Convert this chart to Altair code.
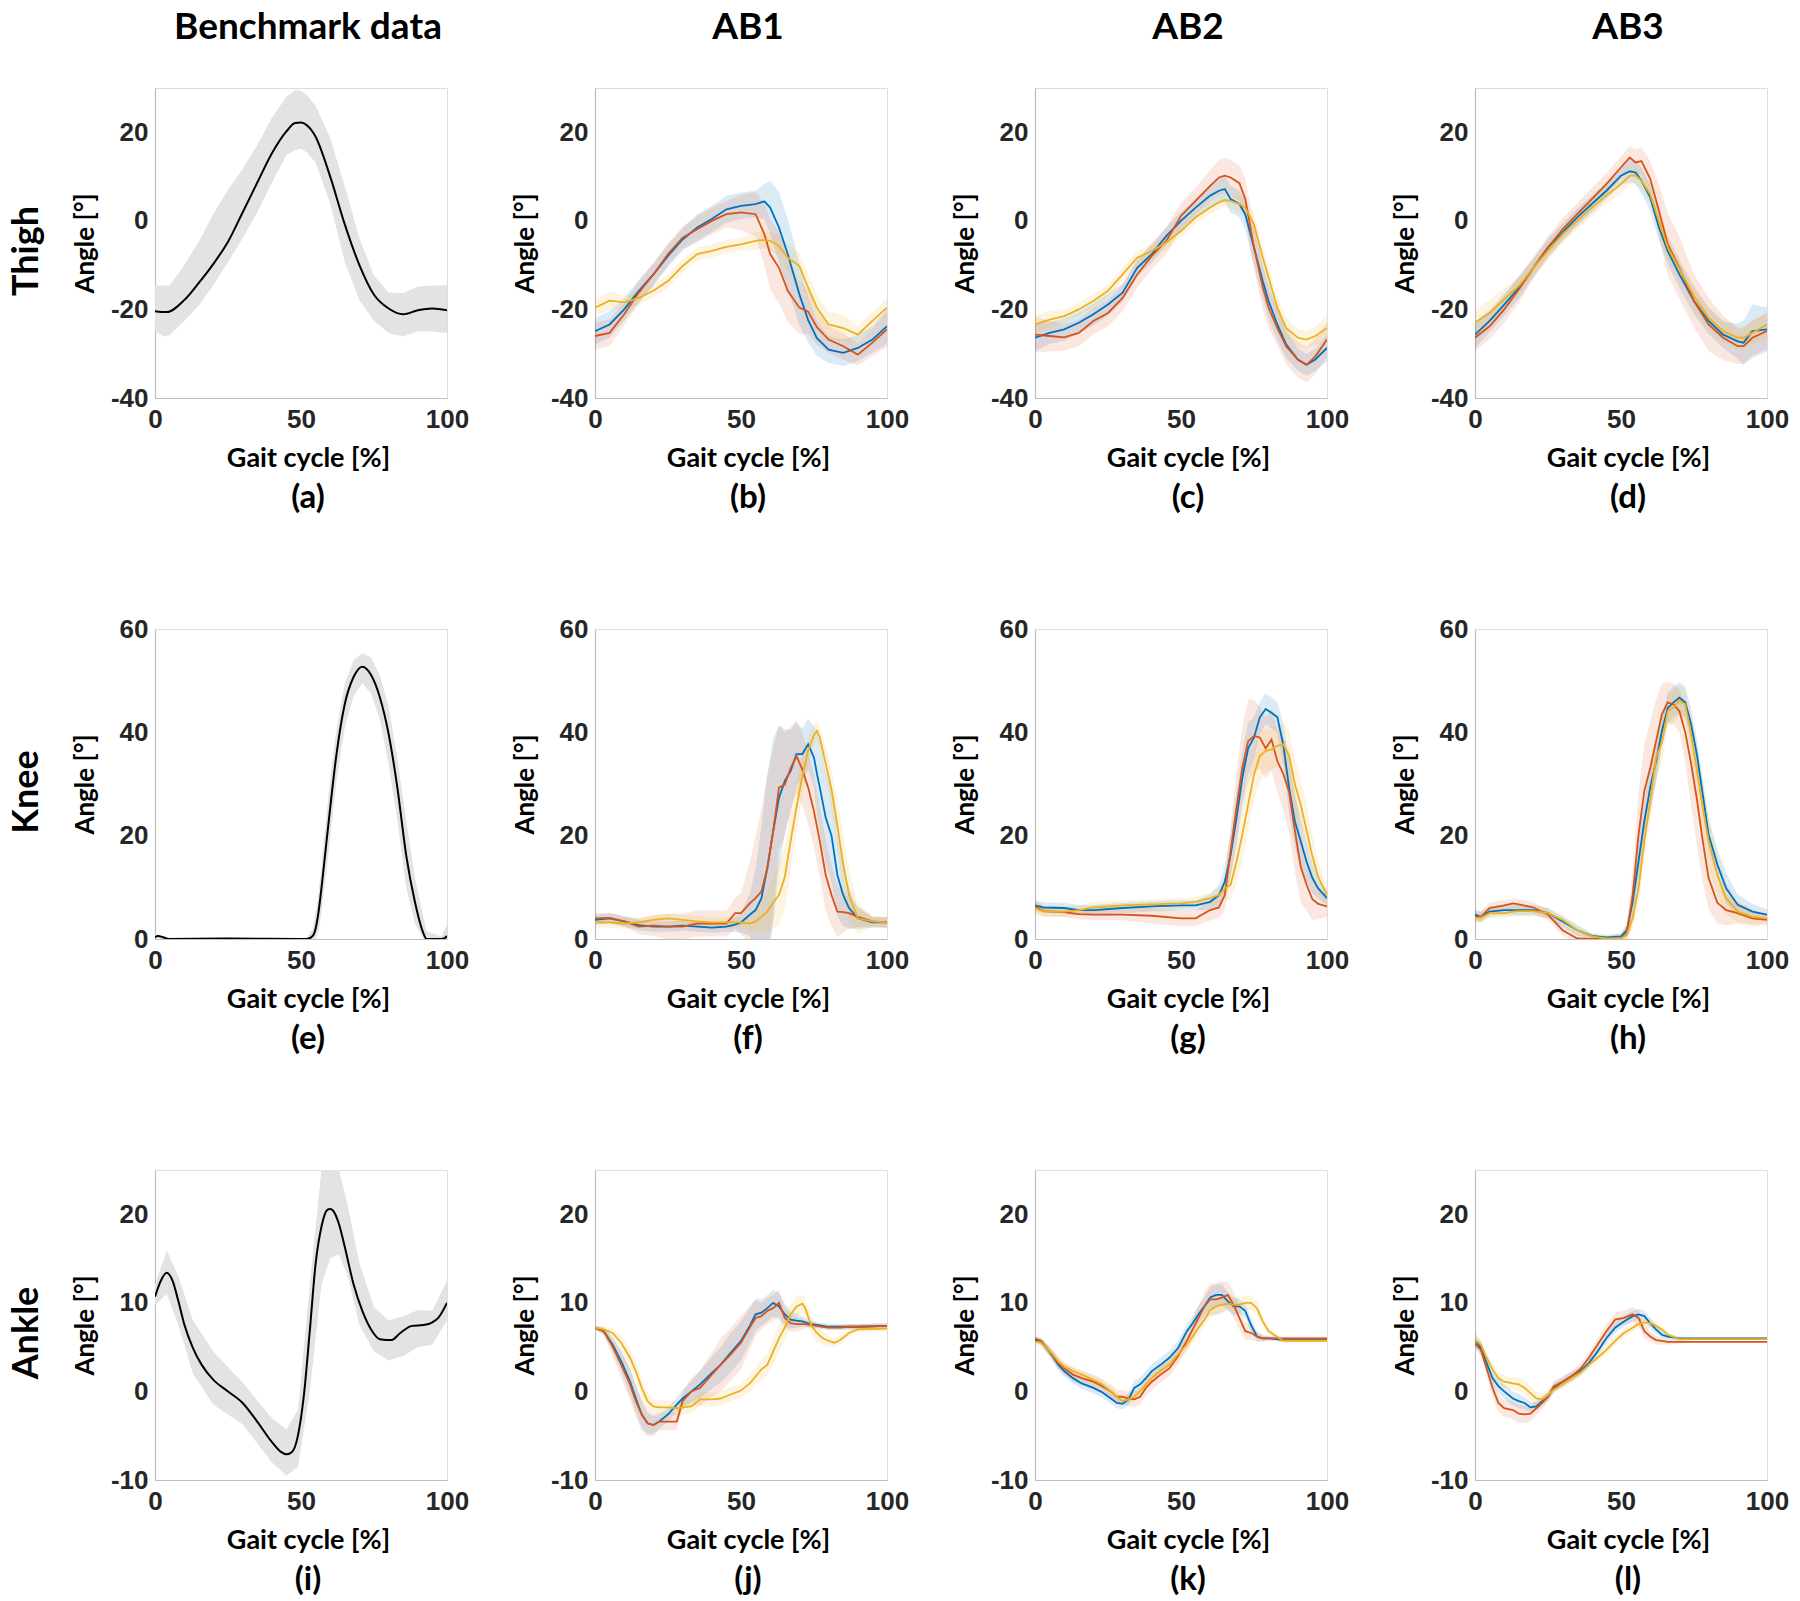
import altair as alt
import pandas as pd

W, H = 292, 310
SERIES = ["blue", "red", "yellow"]
SERIES_COLORS = ["#0072BD", "#D95319", "#EDB120"]
AXIS_COLOR = "#bdbdbd"
TICK_FONT = "Liberation Sans"
TEXT_FONT = "Lato"

COL_TITLES = ["Benchmark data", "AB1", "AB2", "AB3"]
ROW_LABELS = ["Thigh", "Knee", "Ankle"]
LETTERS = ["(a)", "(b)", "(c)", "(d)", "(e)", "(f)", "(g)", "(h)", "(i)", "(j)", "(k)", "(l)"]
X_TICKS = [0, 50, 100]
THIGH_DOMAIN, THIGH_TICKS = [-40, 30], [-40, -20, 0, 20]
KNEE_DOMAIN, KNEE_TICKS = [0, 60], [0, 20, 40, 60]
ANKLE_DOMAIN, ANKLE_TICKS = [-10, 25], [-10, 0, 10, 20]

# ---------------- Benchmark thigh (a)
A_X = [0, 4, 10, 15, 20, 25, 30, 35, 40, 45, 48, 50, 52, 55, 60, 65, 70, 75, 80, 85, 90, 95, 100]
A_MEAN = [-20.4, -20.6, -17.9, -14, -9.7, -4.7, 1.9, 8.6, 15.2, 20.2, 22.1, 22.2, 21.6, 19, 10, -0.8, -10, -16.7, -19.8, -21.1, -20.2, -19.8, -20.2]
A_BX = [0, 3, 5, 10, 15, 20, 25, 30, 35, 40, 45, 48, 50, 52, 55, 60, 65, 70, 75, 80, 85, 90, 95, 100]
A_HI = [-14.6, -14.6, -14.6, -10, -4.7, 1.6, 7, 11.7, 17.1, 23.3, 28, 29.5, 29.4, 28.4, 26, 18.7, 7.8, -3.9, -12.4, -16.2, -16.3, -14.9, -14.6, -14.6]
A_LO = [-24.9, -26.1, -25.8, -22.6, -19.1, -14.5, -9.3, -3.9, 1.9, 8.6, 14.8, 16, 16.3, 15.5, 13.2, 3.9, -9.3, -17.9, -22.6, -25.3, -26.1, -24.9, -25, -25.3]

# ---------------- AB1 thigh (b)
B_X = [0, 5, 10, 15, 20, 25, 30, 35, 40, 45, 50, 55, 58, 60, 63, 66, 70, 73, 76, 80, 85, 90, 95, 100]
B_BLUE = [-24.9, -23.4, -20, -15.8, -12.1, -7.9, -4.2, -1.5, 0.4, 2.6, 3.4, 3.8, 4.4, 3, -1.5, -7.5, -16.6, -22.4, -26.5, -29.1, -29.8, -28.7, -26.8, -23.8]
B_RED = [-26, -25.3, -21.1, -16.2, -12.1, -7.5, -3.8, -1.9, 0, 1.5, 1.9, 1.5, -3, -7.5, -10.6, -15.8, -19.6, -20.5, -24, -26.8, -28.3, -30.2, -27.5, -24.5]
B_YEL = [-19.6, -18, -18.4, -17.4, -15.8, -13.6, -10.2, -7.5, -6.8, -5.9, -5.3, -4.5, -4.3, -4.5, -5.7, -8.3, -10.2, -15.1, -19.6, -23.4, -24.2, -25.7, -22.6, -19.6]
B_BLUE_SD = [3, 3, 2.5, 2.5, 2.5, 2.5, 2.5, 3, 3, 3, 3, 3, 4, 6, 8, 8, 7, 5, 4, 3, 3, 3, 3, 4]
B_RED_SD = [3, 3, 2.5, 2.5, 2.5, 2.5, 2.5, 3, 3, 3, 4, 5, 7, 8, 8, 7, 6, 5, 4, 3, 3, 2.5, 3, 4]
B_YEL_SD = [2, 2, 1.5, 1.5, 1.5, 1.5, 1.5, 1.5, 1.5, 1.5, 1.5, 2, 2, 2, 2.5, 3, 3, 3, 3, 3, 3, 2, 2, 2]

# ---------------- AB2 thigh (c)
C_X = [0, 5, 10, 15, 20, 25, 30, 35, 40, 45, 50, 55, 60, 63, 65, 67, 70, 72, 75, 78, 80, 83, 86, 90, 93, 96, 100]
C_BLUE = [-26.4, -25.3, -24.5, -23, -21.1, -18.9, -16.2, -10.6, -7.5, -3.4, 0, 3, 5.7, 6.8, 7.2, 4.9, 3.8, 1.5, -6, -13.6, -18.1, -23.4, -27.9, -31.3, -32.5, -31.3, -28.7]
C_RED = [-25.7, -26, -26.3, -25.3, -22.6, -20.8, -17.4, -12.1, -7.9, -4.5, 1.1, 4.5, 7.9, 9.8, 10.2, 9.8, 8.5, 5, -6, -15, -19.6, -24.2, -28.3, -31.3, -32.5, -30.6, -26.8]
C_YEL = [-23.4, -22.3, -21.5, -20, -18.1, -15.8, -12.1, -8.3, -6.8, -4.9, -2.3, 0.8, 3, 4.2, 4.7, 4.5, 3.8, 3, -0.8, -8.3, -12.8, -19.6, -24.2, -26.4, -26.8, -26, -24.2]
C_BLUE_SD = [3, 2.5, 2.5, 2.5, 2.5, 2.5, 2, 2, 2, 2, 2, 2, 2.5, 3, 3, 3, 3, 3.5, 4, 4, 4, 3.5, 3, 2.5, 2.5, 2.5, 3]
C_RED_SD = [4, 3.5, 3, 3, 3, 3, 3, 3, 3, 3, 3, 3, 3.5, 4, 4, 4, 4, 4.5, 5, 5, 4.5, 4, 4, 4, 4, 4, 4]
C_YEL_SD = [2, 2, 1.5, 1.5, 1.5, 1.5, 1.5, 1.5, 1.5, 1.5, 1.5, 1.5, 1.5, 1.5, 1.5, 1.5, 2, 2, 2.5, 2.5, 2.5, 2.5, 2.5, 2, 2, 2, 3]

# ---------------- AB3 thigh (d)
D_X = [0, 5, 10, 15, 20, 25, 30, 35, 40, 45, 50, 53, 55, 57, 60, 63, 66, 70, 75, 80, 85, 90, 92, 95, 100]
D_BLUE = [-25.7, -22.6, -18.9, -15.1, -10.6, -6, -2.6, 0.8, 3.8, 6.8, 10.2, 11.2, 10.9, 9.1, 5.3, -1.5, -6.8, -12.1, -18.1, -22.6, -25.7, -27.2, -27.5, -24.9, -24.5]
D_RED = [-26.4, -23.8, -20, -15.5, -10.6, -6, -1.9, 1.5, 4.9, 8.3, 12.1, 14.3, 13.2, 13.5, 9.5, 2.3, -5.3, -10.6, -18.1, -23.4, -26.4, -28.3, -28.3, -26.4, -24.9]
D_YEL = [-23, -20.8, -17.7, -14.7, -10.6, -6.8, -3, 0, 3, 5.7, 8.3, 10.2, 10.2, 9.1, 6, 0, -6, -10.9, -17, -21.9, -24.9, -26.4, -26.4, -25.3, -23.4]
D_BLUE_SD = [3, 2.5, 2.5, 2.5, 2, 2, 2, 2, 2, 2, 2, 2.5, 2.5, 3, 3, 3, 3, 3, 3, 3, 3, 4, 5, 6, 5]
D_RED_SD = [3, 3, 3, 3, 2.5, 2.5, 2.5, 2.5, 2.5, 2.5, 2.5, 2.5, 3, 3, 4, 6, 7, 7, 6, 6, 5, 4, 4, 4, 4]
D_YEL_SD = [3, 3, 2.5, 2, 2, 2, 2, 2, 2, 2, 2, 2, 2, 2, 2, 2.5, 2.5, 2.5, 2.5, 2.5, 2.5, 2.5, 2.5, 2.5, 3]

# ---------------- Benchmark knee (e)
E_X = [0, 1, 3, 5, 25, 50, 52, 54, 55, 56, 57, 58, 60, 62, 65, 68, 71, 74, 77, 80, 83, 86, 89, 92, 93, 98, 99, 100]
E_MEAN = [0.3, 0.6, 0.3, 0, 0.1, 0, 0, 0.6, 2, 5.2, 9.8, 15, 25.4, 35.1, 45.5, 50.7, 52.7, 51.1, 46.8, 39.7, 29.3, 16.3, 7.2, 1, 0, 0, 0.1, 0.6]
E_HI = [0.6, 1, 0.6, 0.3, 0.3, 0.2, 0.3, 2, 5, 9, 14, 20, 31, 40, 49.5, 54, 55.3, 54.5, 51, 45, 35, 23, 12, 4, 1.5, 0.5, 1.5, 2.8]
E_LO = [0, 0.2, 0, 0, 0, 0, 0, 0, 0, 1.5, 5, 10, 19.5, 30, 41, 47, 49.5, 47.5, 42.5, 34, 23, 10, 3, 0, 0, 0, 0, 0]

# ---------------- AB1 knee (f)
F_X = [0, 5, 10, 15, 20, 25, 30, 35, 40, 45, 48, 50, 53, 55, 57, 59, 61, 63, 65, 67, 69, 71, 73, 75, 76, 77, 79, 81, 83, 85, 87, 90, 95, 100]
F_BLUE = [3.7, 4, 3.4, 2.7, 2.4, 2.4, 2.6, 2.4, 2.2, 2.4, 2.8, 3.2, 4.7, 5.6, 7.9, 13.7, 20.8, 27.3, 30.6, 32.5, 35.8, 35.8, 37.7, 35.1, 32, 29.3, 23.5, 20, 12.4, 8.5, 6, 4, 3.2, 3.2]
F_RED = [4, 4.1, 3.4, 2.4, 2.6, 2.4, 2.4, 3, 3, 3, 5, 5, 6.9, 7.9, 9.2, 13.7, 20.8, 29.3, 29.9, 33.1, 35.4, 32.8, 29.3, 24.7, 21.8, 18.9, 12.4, 8.5, 5.3, 5.2, 5, 4.3, 3.4, 3.2]
F_YEL = [3.2, 3.2, 3, 3.2, 3.7, 4, 3.7, 3.4, 3.2, 3.2, 3.2, 3.2, 3, 3.4, 4.3, 5.3, 7, 8.5, 12, 19, 25.5, 31.5, 36.5, 39.5, 40.3, 39, 34, 29, 22, 14.5, 8.5, 4, 3.4, 3.2]
F_BLUE_SD = [1, 1, 1, 1, 1, 1, 1, 1, 1, 1, 1.5, 2, 4, 8, 14, 18, 18, 14, 10, 8, 6, 5, 5, 6, 8, 9, 9, 9, 8, 6, 4, 2, 1, 1]
F_RED_SD = [1, 1, 1, 1.5, 2, 2.5, 2.5, 2.5, 2.5, 2.5, 3, 4, 8, 12, 16, 18, 16, 12, 10, 8, 7, 7, 7, 7, 7, 7, 7, 6, 5, 4, 3, 2, 1, 1]
F_YEL_SD = [1, 1, 1, 1, 1, 1, 1, 1, 1, 1, 1, 1, 1.5, 2, 3, 4, 5, 6, 6, 6, 5, 4, 3, 2, 2, 2, 3, 4, 5, 6, 5, 3, 1, 1]

# ---------------- AB2 knee (g)
G_X = [0, 3, 10, 15, 20, 30, 40, 50, 55, 60, 63, 65, 67, 69, 71, 73, 75, 77, 79, 81, 83, 85, 87, 89, 91, 93, 95, 97, 100]
G_BLUE = [6.5, 6.1, 6, 5.6, 5.6, 6, 6.3, 6.5, 6.5, 7.2, 8.5, 11.1, 16.3, 23.4, 31.2, 36.9, 39, 42.9, 44.5, 43.8, 42.9, 37.7, 29.3, 22.8, 18.9, 15, 11.8, 9.8, 7.9]
G_RED = [6.3, 5.4, 5.2, 4.8, 4.7, 4.7, 4.5, 4, 4, 5.6, 6.1, 8.5, 17, 25.4, 33.1, 38.3, 39.3, 39, 36.9, 38.6, 34.4, 32, 28.5, 21, 14, 10.5, 7.7, 6.8, 6.3]
G_YEL = [6, 5.3, 5.3, 5.6, 6.1, 6.5, 6.7, 6.9, 7.2, 7.9, 8.5, 9.8, 10.5, 15, 20.2, 26, 31.8, 35.4, 36.4, 36.7, 37.4, 37.7, 35.5, 30, 26, 21, 16, 12, 8.5]
G_BLUE_SD = [1, 1, 1, 1, 1, 1, 1, 1, 1, 1.5, 2, 3, 4, 5, 5, 5, 4, 3, 3, 3, 3, 4, 5, 5, 5, 4, 3, 2, 1.5]
G_RED_SD = [1, 1, 1, 1, 1, 1, 1.5, 1.5, 1.5, 2, 2, 3, 5, 7, 8, 8, 7, 6, 6, 6, 6, 7, 8, 8, 7, 5, 4, 3, 2]
G_YEL_SD = [1.5, 1, 1, 1, 1, 1, 1, 1, 1, 1, 1.5, 2, 3, 4, 5, 5, 5, 5, 4, 4, 4, 4, 5, 5, 5, 5, 4, 3, 2]

# ---------------- AB3 knee (h)
H_X = [0, 2, 5, 10, 13, 15, 20, 25, 30, 35, 40, 45, 50, 52, 54, 56, 58, 60, 62, 64, 66, 68, 70, 72, 74, 76, 78, 80, 83, 86, 90, 95, 100]
H_BLUE = [4.7, 4.3, 5.3, 5.6, 5.6, 5.6, 5.6, 5, 3.4, 1.7, 0.6, 0.3, 0.5, 1.7, 7.2, 15, 22.8, 29.3, 34.4, 40.2, 44.7, 45.8, 46.7, 45.8, 41.6, 35.7, 28, 20.2, 14.4, 9.8, 6.6, 5.3, 4.7]
H_RED = [4.3, 4.3, 6, 6.5, 6.9, 6.7, 6.1, 4.7, 1.7, 0.1, 0, 0, 0.1, 1.1, 8.5, 20.2, 28.7, 33.1, 38.3, 43.5, 45.8, 45.4, 44.1, 40, 34, 27, 19, 11.8, 7, 5.6, 5, 4, 3.7]
H_YEL = [4.1, 4.1, 5, 5, 5.3, 5.4, 5.4, 5, 3.7, 1.7, 0.5, 0.1, 0.1, 0.8, 4, 9.8, 18.9, 26.7, 35.1, 38, 44.1, 44.8, 46.1, 45.4, 39.6, 32.5, 25.4, 18.9, 12.4, 7.9, 5.3, 4.3, 4]
H_BLUE_SD = [1, 1, 1, 1, 1, 1, 1, 1, 1, 1, 0.5, 0.5, 0.5, 1, 3, 4, 4, 4, 4, 3, 3, 3, 3, 3, 3, 3, 3, 3, 3, 3, 2, 1.5, 1]
H_RED_SD = [1, 1, 1, 1, 1, 1, 1, 1, 1, 1, 0.5, 0.5, 1, 2, 5, 8, 9, 9, 8, 6, 4, 4, 4, 6, 8, 9, 8, 6, 4, 3, 2, 1.5, 1]
H_YEL_SD = [1, 1, 1, 1, 1, 1, 1, 1, 1, 1, 0.5, 0.5, 0.5, 1, 2, 3, 4, 4, 4, 4, 3, 3, 3, 3, 4, 5, 5, 5, 4, 3, 2, 1.5, 1]

# ---------------- Benchmark ankle (i)
I_X = [0, 2, 4, 6, 8, 10, 13, 16, 20, 25, 30, 35, 40, 43, 45, 47, 49, 51, 53, 55, 57, 59, 60, 61, 63, 65, 68, 71, 74, 77, 81, 84, 88, 92, 95, 97, 100]
I_MEAN = [10.7, 12.5, 13.4, 12.5, 10.2, 7.6, 4.9, 3, 1.3, 0, -1.3, -3.4, -5.7, -6.8, -7.1, -6.8, -4.9, -0.4, 6.8, 14.4, 18.6, 20.5, 20.6, 20.4, 18.9, 16.3, 12.1, 9.1, 7, 5.9, 5.8, 6.6, 7.4, 7.5, 7.8, 8.3, 10]
I_BX = [0, 4, 8, 13, 20, 30, 40, 45, 49, 53, 57, 60, 63, 66, 70, 75, 80, 85, 90, 95, 100]
I_HI = [12, 15.9, 13, 8, 4.5, 1, -3, -4.3, -2, 12, 25, 25, 25, 21, 14.5, 9.5, 8, 8.5, 9.2, 9.1, 12.5]
I_LO = [9.7, 11, 7.5, 2, -1.5, -3.7, -8, -9.5, -8.5, 0, 12, 15, 15.5, 13, 7.5, 4.5, 3.5, 4, 5, 5.3, 8]

# ---------------- AB1 ankle (j)
J_X = [0, 3, 6, 9, 12, 14, 16, 18, 20, 22, 25, 28, 30, 33, 36, 40, 43, 46, 50, 53, 55, 57, 59, 61, 63, 65, 67, 69, 71, 72, 74, 76, 78, 80, 82, 84, 87, 90, 100]
J_BLUE = [7.2, 6.8, 5.3, 3.4, 1.1, -0.8, -2.6, -3.6, -3.8, -3.4, -2.6, -1.5, -0.8, 0, 0.8, 2.1, 3, 4.2, 5.7, 7.4, 8.7, 8.9, 9.4, 10, 9.6, 8.7, 8.1, 8, 7.9, 7.8, 7.6, 7.5, 7.4, 7.3, 7.3, 7.3, 7.3, 7.3, 7.4]
J_RED = [7.2, 6.8, 5.1, 3, 0.8, -1.1, -2.6, -3.6, -3.8, -3.4, -3.4, -3.4, -1.1, 0, 0.4, 1.9, 3, 4, 5.5, 7.2, 8.3, 8.5, 9.1, 9.4, 10, 8.3, 7.7, 7.6, 7.6, 7.6, 7.5, 7.4, 7.3, 7.2, 7.2, 7.2, 7.3, 7.3, 7.4]
J_YEL = [7.2, 7, 6.6, 5.5, 3.8, 2.3, 0.4, -1.1, -1.7, -1.8, -1.8, -1.9, -1.8, -1.7, -0.9, -0.9, -0.8, -0.4, 0.1, 0.9, 1.7, 2.5, 3, 4.5, 6, 7.2, 8.7, 9.6, 9.9, 9.4, 7.5, 6.6, 6, 5.7, 5.5, 5.8, 6.6, 7, 7.1]
J_BLUE_SD = [0.2, 0.4, 0.8, 1.2, 1.5, 1.5, 1.5, 1.2, 1, 0.8, 0.8, 0.8, 1, 1.2, 1.5, 1.8, 2, 2.2, 2.2, 2, 1.8, 1.5, 1.5, 1.5, 1.5, 1.2, 1, 0.8, 0.6, 0.5, 0.4, 0.3, 0.3, 0.3, 0.3, 0.3, 0.3, 0.3, 0.3]
J_RED_SD = [0.2, 0.5, 1, 1.5, 1.8, 1.8, 1.8, 1.5, 1.2, 1, 1, 1, 1, 1.5, 2, 2.5, 3, 3, 3, 2.5, 2, 1.5, 1.5, 1.5, 1.5, 1.2, 1, 0.8, 0.6, 0.5, 0.4, 0.3, 0.3, 0.3, 0.3, 0.3, 0.3, 0.3, 0.3]
J_YEL_SD = [0.2, 0.3, 0.5, 0.8, 1, 1, 1, 1, 0.8, 0.8, 0.8, 0.8, 0.8, 0.8, 0.8, 0.8, 0.8, 0.8, 0.8, 1, 1, 1.2, 1.2, 1.5, 1.5, 1.5, 1.2, 1.2, 1, 1, 1, 1, 0.8, 0.6, 0.5, 0.5, 0.4, 0.3, 0.3]

# ---------------- AB2 ankle (k)
K_X = [0, 2, 4, 6, 8, 10, 13, 16, 20, 23, 26, 28, 30, 32, 34, 36, 38, 40, 43, 46, 49, 52, 54, 56, 58, 60, 62, 64, 66, 68, 70, 72, 74, 76, 78, 80, 85, 90, 100]
K_BLUE = [5.8, 5.7, 4.9, 4, 3, 2.3, 1.5, 0.9, 0.4, -0.1, -0.8, -1.3, -1.4, -0.9, 0.4, 0.8, 1.5, 2.3, 3, 3.8, 4.9, 6.8, 7.7, 8.7, 9.6, 10.6, 10.9, 10.9, 10.2, 9.6, 9.6, 9.1, 7.5, 6.2, 6, 6, 5.8, 5.8, 5.8]
K_RED = [6, 5.7, 4.9, 4.1, 3.2, 2.6, 1.9, 1.5, 1.1, 0.6, 0, -0.6, -0.6, -0.8, -0.9, -0.6, 0.4, 1.1, 1.9, 2.6, 4, 5.7, 7, 8.3, 9.6, 10.4, 10.4, 10.6, 10.9, 9.8, 8.3, 6.8, 6.6, 6.2, 6, 6, 6, 6, 6]
K_YEL = [5.6, 5.5, 4.9, 4.2, 3.4, 2.8, 2.3, 1.9, 1.3, 0.8, 0, -0.6, -1.1, -0.9, -0.6, 0, 0.8, 1.5, 2.3, 3, 4.2, 5.3, 6.2, 7.2, 8.1, 9.2, 9.6, 9.8, 9.9, 9.8, 9.8, 10, 10, 9.4, 7.9, 6.8, 5.7, 5.7, 5.7]
K_BLUE_SD = [0.3, 0.4, 0.5, 0.6, 0.6, 0.6, 0.6, 0.6, 0.6, 0.6, 0.6, 0.6, 0.6, 0.7, 0.8, 0.8, 0.8, 0.8, 0.8, 0.8, 0.8, 0.8, 0.8, 1, 1, 1.2, 1.2, 1.2, 1, 1, 0.8, 0.8, 0.8, 0.5, 0.3, 0.2, 0.2, 0.2, 0.2]
K_RED_SD = [0.3, 0.4, 0.5, 0.6, 0.7, 0.7, 0.8, 0.8, 0.8, 0.8, 0.8, 0.8, 0.8, 0.8, 0.9, 0.9, 0.9, 0.9, 0.9, 0.9, 1, 1, 1.2, 1.4, 1.6, 1.8, 1.8, 1.8, 1.5, 1.5, 1.3, 1, 0.8, 0.6, 0.4, 0.3, 0.2, 0.2, 0.2]
K_YEL_SD = [0.4, 0.4, 0.5, 0.5, 0.5, 0.5, 0.5, 0.5, 0.5, 0.5, 0.5, 0.5, 0.5, 0.5, 0.5, 0.5, 0.6, 0.6, 0.6, 0.6, 0.7, 0.7, 0.8, 0.8, 0.8, 0.8, 0.8, 0.8, 0.8, 0.8, 0.8, 0.8, 0.8, 0.8, 0.6, 0.4, 0.2, 0.2, 0.2]

# ---------------- AB3 ankle (l)
L_X = [0, 2, 4, 6, 8, 10, 13, 15, 17, 19, 21, 23, 25, 27, 30, 33, 36, 39, 42, 45, 48, 51, 54, 56, 58, 60, 62, 64, 66, 70, 75, 100]
L_BLUE = [5.8, 4.9, 3.2, 1.5, 0.6, 0, -0.8, -1.1, -1.3, -1.8, -1.7, -1.1, -0.6, 0.4, 1.1, 1.7, 2.3, 3.2, 4.5, 6, 7.2, 7.9, 8.5, 8.7, 8.5, 7.7, 7, 6.4, 6.2, 6, 6, 6]
L_RED = [5.4, 4.7, 2.6, 0.4, -1.3, -1.9, -2.1, -2.5, -2.6, -2.5, -1.9, -1.3, -0.6, 0.6, 1.1, 1.7, 2.5, 3.8, 5.3, 6.8, 8.1, 8.3, 8.7, 8.3, 6.8, 6.2, 5.8, 5.7, 5.6, 5.6, 5.6, 5.6]
L_YEL = [5.8, 5.3, 3.8, 2.5, 1.5, 1.1, 0.9, 0.8, 0.4, -0.2, -0.8, -0.9, -0.4, 0.2, 0.8, 1.5, 2.1, 3, 3.8, 4.7, 5.7, 6.6, 7.2, 7.6, 7.8, 7.7, 7.4, 7, 6.4, 5.9, 5.9, 5.9]
L_BLUE_SD = [0.8, 0.8, 0.8, 0.8, 0.8, 0.8, 0.8, 0.8, 0.7, 0.6, 0.5, 0.5, 0.5, 0.5, 0.5, 0.5, 0.5, 0.5, 0.5, 0.6, 0.6, 0.6, 0.6, 0.6, 0.6, 0.6, 0.5, 0.4, 0.3, 0.2, 0.1, 0.1]
L_RED_SD = [0.5, 0.6, 0.8, 1, 1, 1, 1, 1, 1, 0.9, 0.8, 0.7, 0.6, 0.6, 0.6, 0.6, 0.6, 0.6, 0.7, 0.8, 0.8, 0.8, 0.8, 0.8, 0.8, 0.6, 0.5, 0.4, 0.3, 0.2, 0.1, 0.1]
L_YEL_SD = [0.5, 0.5, 0.6, 0.7, 0.7, 0.7, 0.7, 0.8, 0.8, 0.8, 0.8, 0.7, 0.6, 0.5, 0.5, 0.5, 0.5, 0.5, 0.5, 0.5, 0.5, 0.5, 0.5, 0.5, 0.5, 0.5, 0.4, 0.3, 0.3, 0.2, 0.1, 0.1]

LABEL_EXPR = "'' + datum.value"


def x_enc():
    return alt.X("x:Q", scale=alt.Scale(domain=[0, 100], nice=False, zero=False),
                 axis=alt.Axis(values=X_TICKS, title="Gait cycle [%]", grid=False, ticks=False,
                               domainColor=AXIS_COLOR, domainWidth=1.2, labelExpr=LABEL_EXPR,
                               labelFont=TICK_FONT, labelFontSize=26, labelFontWeight="bold",
                               labelColor="#262626", labelPadding=8, labelFlush=False, labelOverlap=False,
                               titleFont=TEXT_FONT, titleFontSize=27, titleFontWeight="bold", titleColor="black",
                               titleX=W / 2 + 7, titleY=60, titleAlign="center", titleBaseline="middle"))


def y_enc(field, domain, ticks):
    return alt.Y(field, scale=alt.Scale(domain=domain, nice=False, zero=False),
                 axis=alt.Axis(values=ticks, title="Angle [°]", grid=False, ticks=False,
                               domainColor=AXIS_COLOR, domainWidth=1.2, labelExpr=LABEL_EXPR,
                               labelFont=TICK_FONT, labelFontSize=26, labelFontWeight="bold",
                               labelColor="#262626", labelPadding=7, labelFlush=False, labelOverlap=False,
                               titleFont=TEXT_FONT, titleFontSize=26, titleFontWeight="bold", titleColor="black",
                               titleX=-70, titleY=H / 2, titleAngle=270, titleAlign="center",
                               titleBaseline="middle"))


def text_layer(txt, x, y, size, angle=0):
    return alt.Chart(pd.DataFrame({"t": [txt]})).mark_text(
        font=TEXT_FONT, fontSize=size, fontWeight="bold", color="black",
        align="center", baseline="middle", angle=angle
    ).encode(text="t:N", x=alt.value(x), y=alt.value(y))


def decorations(idx):
    r, c = divmod(idx, 4)
    out = [text_layer(LETTERS[idx], W / 2 + 7, H + 100, 33)]
    if r == 0:
        out.append(text_layer(COL_TITLES[c], W / 2 + 7, -60, 37))
    if c == 0:
        out.append(text_layer(ROW_LABELS[r], -128, H / 2 + 8, 36, angle=270))
    return out


def bench_panel(idx, xs, mean, bx, lo, hi, domain, ticks):
    band_df = pd.DataFrame({"x": bx, "lo": lo, "hi": hi})
    mean_df = pd.DataFrame({"x": xs, "y": mean})
    band = alt.Chart(band_df).mark_area(color="#e3e3e3", opacity=1, clip=True).encode(
        x=x_enc(), y=y_enc("lo:Q", domain, ticks), y2="hi:Q")
    line = alt.Chart(mean_df).mark_line(color="black", strokeWidth=2, clip=True, interpolate="monotone").encode(
        x=x_enc(), y=y_enc("y:Q", domain, ticks))
    return alt.layer(band, line, *decorations(idx)).properties(width=W, height=H)


def ab_panel(idx, xs, means, sds, domain, ticks):
    rows = []
    for s, m, sd in zip(SERIES, means, sds):
        for x, y, d in zip(xs, m, sd):
            rows.append({"x": x, "y": y, "lo": y - d, "hi": y + d, "s": s})
    df = pd.DataFrame(rows)
    color = alt.Color("s:N", scale=alt.Scale(domain=SERIES, range=SERIES_COLORS), legend=None)
    band = alt.Chart(df).mark_area(opacity=0.14, clip=True).encode(
        x=x_enc(), y=y_enc("lo:Q", domain, ticks), y2="hi:Q", color=color)
    line = alt.Chart(df).mark_line(strokeWidth=1.8, clip=True).encode(
        x=x_enc(), y=y_enc("y:Q", domain, ticks), color=color)
    return alt.layer(band, line, *decorations(idx)).properties(width=W, height=H)


panels = [
    bench_panel(0, A_X, A_MEAN, A_BX, A_LO, A_HI, THIGH_DOMAIN, THIGH_TICKS),
    ab_panel(1, B_X, [B_BLUE, B_RED, B_YEL], [B_BLUE_SD, B_RED_SD, B_YEL_SD], THIGH_DOMAIN, THIGH_TICKS),
    ab_panel(2, C_X, [C_BLUE, C_RED, C_YEL], [C_BLUE_SD, C_RED_SD, C_YEL_SD], THIGH_DOMAIN, THIGH_TICKS),
    ab_panel(3, D_X, [D_BLUE, D_RED, D_YEL], [D_BLUE_SD, D_RED_SD, D_YEL_SD], THIGH_DOMAIN, THIGH_TICKS),
    bench_panel(4, E_X, E_MEAN, E_X, E_LO, E_HI, KNEE_DOMAIN, KNEE_TICKS),
    ab_panel(5, F_X, [F_BLUE, F_RED, F_YEL], [F_BLUE_SD, F_RED_SD, F_YEL_SD], KNEE_DOMAIN, KNEE_TICKS),
    ab_panel(6, G_X, [G_BLUE, G_RED, G_YEL], [G_BLUE_SD, G_RED_SD, G_YEL_SD], KNEE_DOMAIN, KNEE_TICKS),
    ab_panel(7, H_X, [H_BLUE, H_RED, H_YEL], [H_BLUE_SD, H_RED_SD, H_YEL_SD], KNEE_DOMAIN, KNEE_TICKS),
    bench_panel(8, I_X, I_MEAN, I_BX, I_LO, I_HI, ANKLE_DOMAIN, ANKLE_TICKS),
    ab_panel(9, J_X, [J_BLUE, J_RED, J_YEL], [J_BLUE_SD, J_RED_SD, J_YEL_SD], ANKLE_DOMAIN, ANKLE_TICKS),
    ab_panel(10, K_X, [K_BLUE, K_RED, K_YEL], [K_BLUE_SD, K_RED_SD, K_YEL_SD], ANKLE_DOMAIN, ANKLE_TICKS),
    ab_panel(11, L_X, [L_BLUE, L_RED, L_YEL], [L_BLUE_SD, L_RED_SD, L_YEL_SD], ANKLE_DOMAIN, ANKLE_TICKS),
]

rows = [alt.hconcat(*panels[r * 4:(r + 1) * 4], spacing=148, bounds="flush") for r in range(3)]
chart = alt.vconcat(*rows, spacing=541, bounds="flush", padding=0
                    ).configure_view(stroke=None).configure(background="white")

chart.save("out.html", embed_options={"renderer": "svg", "actions": False})
